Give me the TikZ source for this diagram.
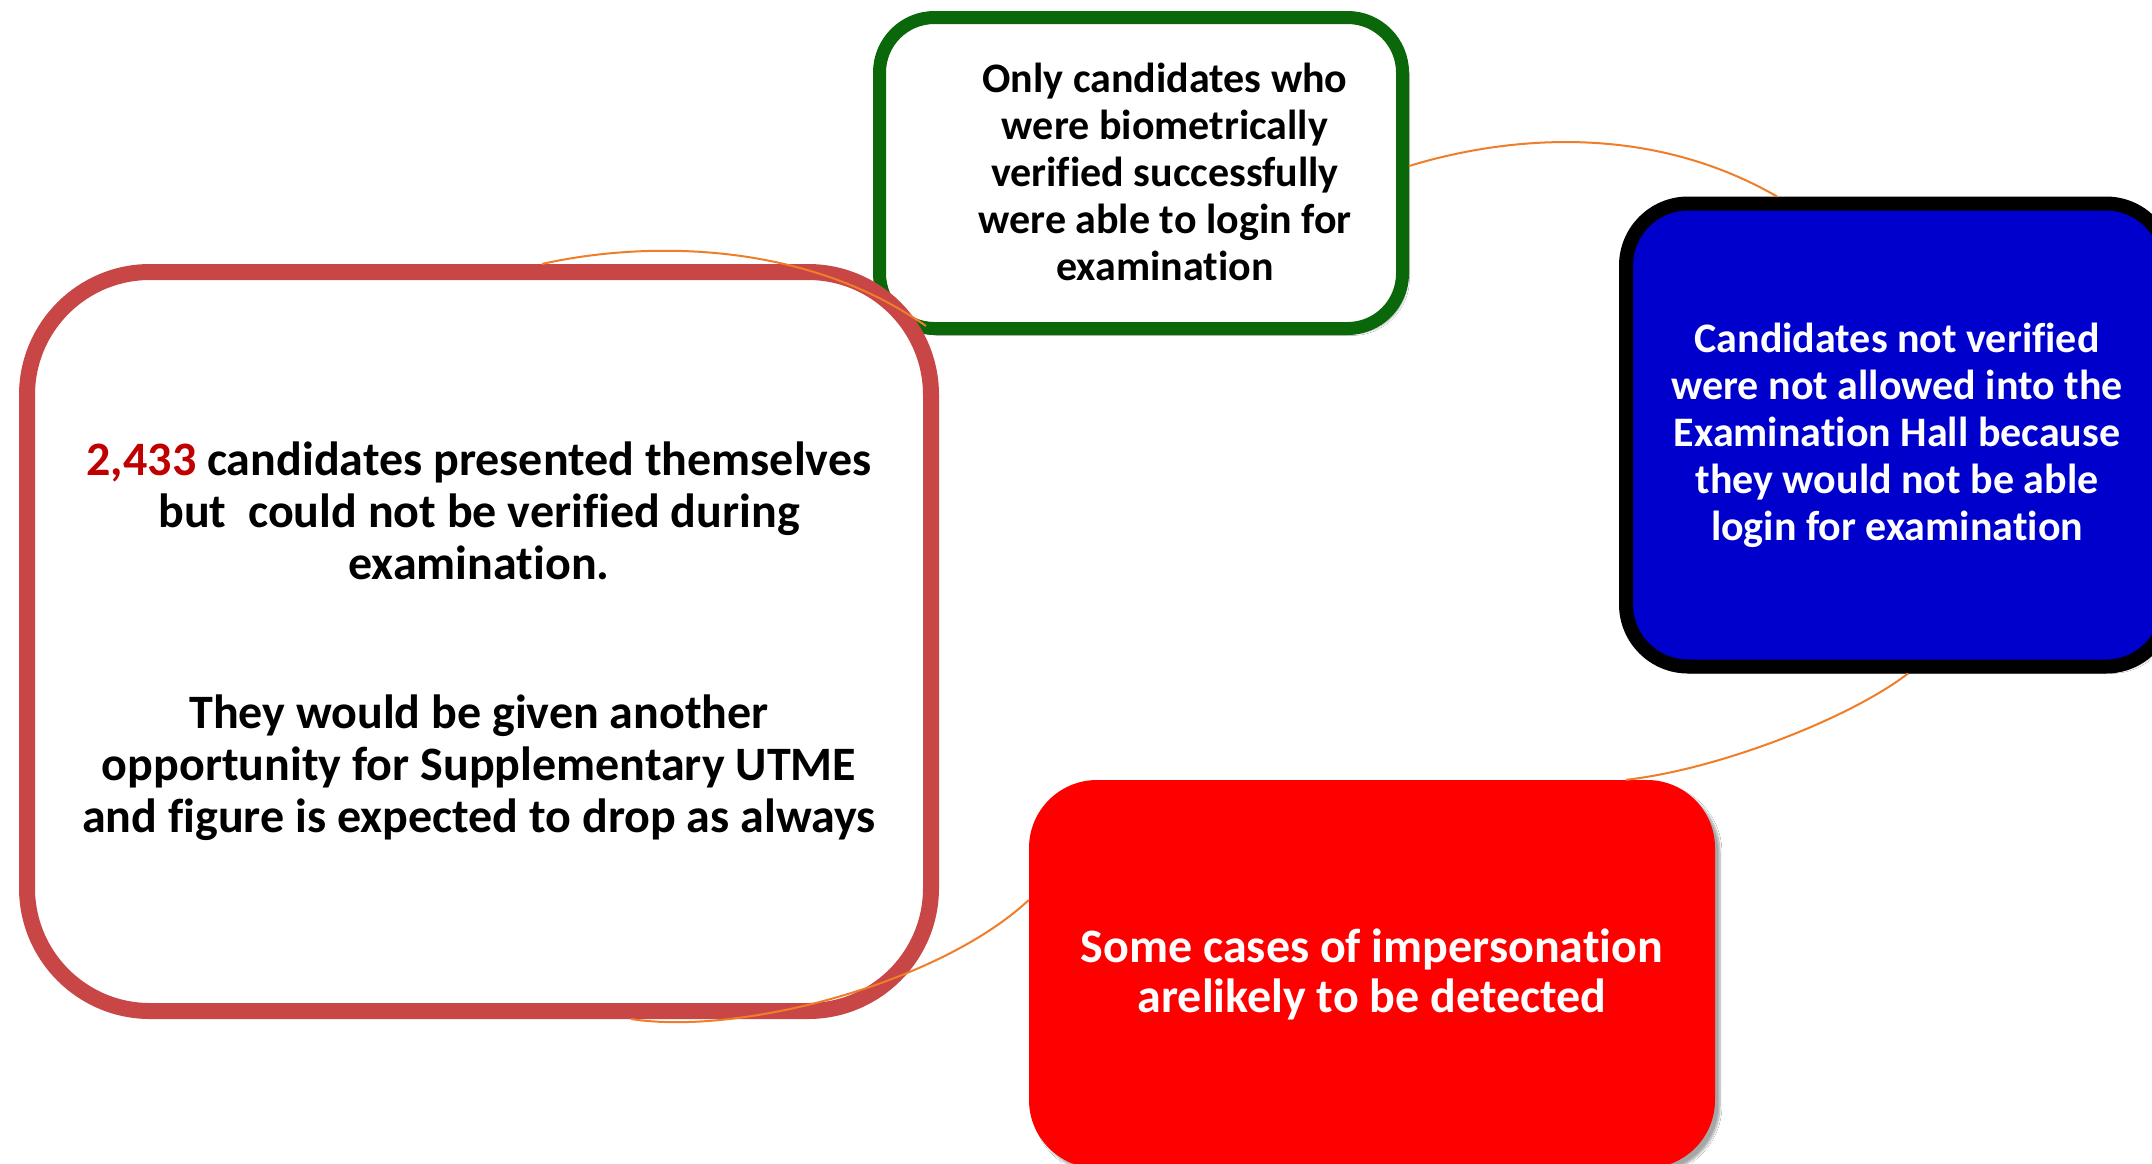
\documentclass[tikz,border=0pt]{standalone}
\usepackage{fontspec}
\setmainfont{Carlito}[RawFeature={-liga;-clig}]
\usetikzlibrary{shadows.blur}
\definecolor{gborder}{RGB}{10,104,10}
\definecolor{bluefill}{RGB}{0,0,204}
\definecolor{lborder}{RGB}{200,70,70}
\definecolor{redfill}{RGB}{254,0,0}
\definecolor{numred}{RGB}{192,0,0}
\definecolor{conn}{RGB}{240,125,40}
\begin{document}
\begin{tikzpicture}[x=1pt,y=-1pt,
  boxbase/.style={rectangle, inner sep=0pt, align=center},
  shade/.style={blur shadow={shadow xshift=5pt, shadow yshift=-5pt, shadow opacity=35, shadow blur steps=8}},
  smalltxt/.style={font=\fontsize{42}{47}\selectfont\bfseries, align=center, inner sep=0pt},
  link/.style={draw=conn, line width=2pt}]
\useasboundingbox (0,0) rectangle (2152,1163);
\fill[white] (0,0) rectangle (2152,1163);

% boxes
\node[boxbase, shade, draw=gborder, line width=13pt, fill=white, rounded corners=55pt,
      minimum width=523pt, minimum height=311pt] (green) at (1141,173) {};
\node[smalltxt, text=black] (greentext) at (1165,172)
  {Only candidates who\\were biometrically\\verified successfully\\were able to login for\\examination};

\node[boxbase, shade, draw=black, line width=14pt, fill=bluefill, rounded corners=62pt,
      minimum width=542pt, minimum height=463pt, text=white,
      font=\fontsize{42}{47}\selectfont\bfseries] (blue) at (1897,435)
  {Candidates not verified\\were not allowed into the\\Examination Hall because\\they would not be able\\login for examination};

\node[boxbase, shade, fill=redfill, rounded corners=68pt,
      minimum width=686pt, minimum height=388pt, text=white,
      font=\fontsize{48}{50}\selectfont\bfseries] (red) at (1372,974)
  {Some cases of impersonation\\arelikely to be detected};

\node[boxbase, draw=lborder, line width=16pt, fill=white, rounded corners=123pt,
      minimum width=904pt, minimum height=739pt, text=black,
      font=\fontsize{48}{52}\selectfont\bfseries] (left) at (479,641.5)
  {{\color{numred}2,433} candidates presented themselves\\but\ \ could not be verified during\\examination.\\[97pt]They would be given another\\opportunity for Supplementary UTME\\and figure is expected to drop as always};

% connectors
\draw[link] ([yshift=7pt]green.east) .. controls +(95,-29) and +(-130,-75) .. ([xshift=-120pt]blue.north);
\draw[link] ([xshift=11pt]blue.south) .. controls +(-60,46) and +(90,-10) .. ([xshift=254pt]red.north);
\draw[link] ([yshift=74pt]red.west) .. controls +(-89,83) and +(110,17) .. ([xshift=152pt]left.south);
\draw[link] ([xshift=63pt]left.north) .. controls +(83,-19) and +(-133,-93) .. ([xshift=-215pt,yshift=9pt]green.south);
\end{tikzpicture}
\end{document}
